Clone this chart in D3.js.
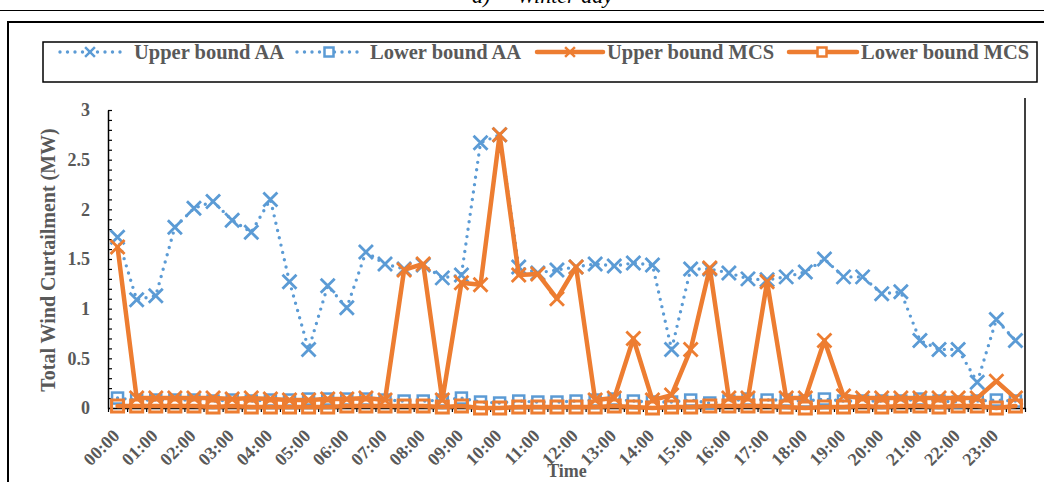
<!DOCTYPE html>
<html><head><meta charset="utf-8">
<script src="https://cdn.jsdelivr.net/npm/d3@7"></script>
<style>body{margin:0;background:#fff}svg{display:block}</style>
</head><body><svg id="c" width="1044" height="482"></svg>
<script>
const categories = ["00:00","00:30","01:00","01:30","02:00","02:30","03:00","03:30","04:00","04:30","05:00","05:30",
"06:00","06:30","07:00","07:30","08:00","08:30","09:00","09:30","10:00","10:30","11:00","11:30",
"12:00","12:30","13:00","13:30","14:00","14:30","15:00","15:30","16:00","16:30","17:00","17:30",
"18:00","18:30","19:00","19:30","20:00","20:30","21:00","21:30","22:00","22:30","23:00","23:30"];
const xTickLabels = ["00:00","01:00","02:00","03:00","04:00","05:00","06:00","07:00","08:00","09:00","10:00","11:00",
"12:00","13:00","14:00","15:00","16:00","17:00","18:00","19:00","20:00","21:00","22:00","23:00"];
const yTicks = [0,0.5,1,1.5,2,2.5,3];
const upperAA = [1.72,1.09,1.13,1.82,2.01,2.08,1.89,1.77,2.10,1.27,0.59,1.23,1.01,1.57,1.45,1.40,1.44,1.31,1.34,2.67,2.75,1.42,1.36,1.39,
1.42,1.45,1.43,1.46,1.44,0.59,1.40,1.40,1.36,1.30,1.29,1.32,1.37,1.50,1.32,1.32,1.15,1.17,0.68,0.59,0.59,0.26,0.89,0.68];
const lowerAA = [0.10,0.08,0.08,0.08,0.08,0.07,0.08,0.07,0.08,0.08,0.09,0.09,0.09,0.09,0.08,0.07,0.07,0.08,0.10,0.06,0.05,0.07,0.06,0.06,
0.07,0.08,0.09,0.07,0.06,0.06,0.08,0.05,0.07,0.09,0.08,0.08,0.07,0.09,0.07,0.07,0.07,0.07,0.09,0.07,0.06,0.07,0.08,0.07];
const upperMCS = [1.62,0.10,0.10,0.10,0.10,0.10,0.09,0.10,0.09,0.08,0.08,0.09,0.09,0.10,0.08,1.39,1.45,0.08,1.26,1.24,2.75,1.34,1.35,1.10,
1.42,0.08,0.10,0.70,0.08,0.13,0.59,1.41,0.10,0.10,1.27,0.10,0.10,0.68,0.12,0.10,0.10,0.10,0.10,0.10,0.10,0.10,0.27,0.10];
const lowerMCS = [0.02,0.02,0.02,0.02,0.02,0.01,0.02,0.01,0.01,0.01,0.01,0.01,0.02,0.02,0.02,0.02,0.02,0.01,0.02,0.00,0.00,0.01,0.01,0.01,
0.01,0.01,0.02,0.01,0.00,0.01,0.01,0.02,0.02,0.02,0.02,0.01,0.00,0.01,0.01,0.02,0.01,0.02,0.02,0.01,0.02,0.02,0.00,0.02];
const seriesNames = ["Upper bound AA","Lower bound AA","Upper bound MCS","Lower bound MCS"];

const BLUE = "#5B9BD5", ORANGE = "#ED7D31", TXT = "#595959";
const FONT = "'Liberation Serif','Times New Roman',serif";
const svg = d3.select("#c");
svg.append("rect").attr("width",1044).attr("height",482).attr("fill","#fff");

// title (cut at top, as in the reference)
svg.append("text").attr("x",472).attr("y",3).attr("font-family",FONT).attr("font-style","italic")
  .attr("font-size",22).attr("fill","#000").text("a)");
svg.append("text").attr("x",517).attr("y",3).attr("font-family",FONT).attr("font-style","italic")
  .attr("font-size",22).attr("fill","#000").text("Winter day");
svg.append("line").attr("x1",0).attr("x2",1044).attr("y1",10.5).attr("y2",10.5).attr("stroke","#000").attr("stroke-width",1);
svg.append("rect").attr("x",8).attr("y",22).attr("width",1040).attr("height",480)
  .attr("fill","none").attr("stroke","#000").attr("stroke-width",2);

// scales
const x = d3.scaleBand().domain(categories).range([108,1025]);
const cx = c => x(c) + x.bandwidth()/2;
const y = d3.scaleLinear().domain([0,3]).range([408,110]);

// y axis
const gy = svg.append("g").attr("transform","translate(108,0)")
  .call(d3.axisLeft(y).tickValues(yTicks).tickSize(0).tickSizeOuter(0).tickPadding(18).tickFormat(d=>String(d)));
gy.select(".domain").attr("stroke","#000").attr("stroke-width",1.5);
gy.selectAll("text").attr("font-family",FONT).attr("font-weight","bold").attr("font-size",18).attr("fill",TXT);
const gyMinor = svg.append("g").attr("transform","translate(108,0)")
  .call(d3.axisRight(y).ticks(30).tickSize(4).tickSizeOuter(0).tickFormat(""));
gyMinor.select(".domain").remove();
gyMinor.selectAll("line").attr("stroke","#000").attr("stroke-width",1.2);

// x axis
const gx = svg.append("g").attr("transform","translate(0,408)")
  .call(d3.axisBottom(x).tickSize(0).tickSizeOuter(0).tickFormat(""));
gx.select(".domain").attr("stroke","#000").attr("stroke-width",1.5);
const xb = d3.scaleLinear().domain([0,categories.length]).range([108,1025]);
const gxt = svg.append("g").attr("transform","translate(0,408)")
  .call(d3.axisBottom(xb).ticks(categories.length).tickSize(4).tickSizeOuter(0).tickFormat(""));
gxt.select(".domain").remove();
gxt.selectAll("line").attr("stroke","#000").attr("stroke-width",1.2);
svg.append("g").selectAll("text").data(xTickLabels).join("text")
  .attr("transform",d=>`translate(${cx(d)+3},437) rotate(-45)`)
  .attr("text-anchor","end").attr("font-family",FONT).attr("font-weight","bold")
  .attr("font-size",18).attr("fill",TXT).text(d=>d);
// right border of plot
svg.append("line").attr("x1",1025).attr("x2",1025).attr("y1",98).attr("y2",408).attr("stroke","#000").attr("stroke-width",1.5);

// axis titles
svg.append("text").attr("transform","translate(55,260) rotate(-90)").attr("text-anchor","middle")
  .attr("font-family",FONT).attr("font-weight","bold").attr("font-size",20).attr("fill",TXT)
  .text("Total Wind Curtailment (MW)");
svg.append("text").attr("x",567).attr("y",477).attr("text-anchor","middle")
  .attr("font-family",FONT).attr("font-weight","bold").attr("font-size",18).attr("fill",TXT).text("Time");

// series
const line = d3.line().x((d,i)=>cx(categories[i])).y(d=>y(d));
const X_PATH = "M-7,-7L7,7M-7,7L7,-7";
function drawSeries(vals, color, dotted, marker, lw){
  const g = svg.append("g");
  g.append("path").attr("d",line(vals)).attr("fill","none").attr("stroke",color)
    .attr("stroke-width",lw).attr("stroke-linecap","round").attr("stroke-linejoin","round")
    .attr("stroke-dasharray",dotted?"0 7.5":null);
  const m = g.selectAll(".m").data(vals).join("g").attr("transform",(d,i)=>`translate(${cx(categories[i])},${y(d)})`);
  if(marker==="x"){
    m.append("path").attr("d",X_PATH).attr("stroke",color).attr("stroke-width",2.8).attr("fill","none");
  } else {
    const s = dotted?11:12;
    m.append("rect").attr("x",-s/2).attr("y",-s/2).attr("width",s).attr("height",s)
      .attr("fill","none").attr("stroke",color).attr("stroke-width",dotted?2.5:3);
  }
}
drawSeries(upperAA, BLUE, true, "x", 3.4);
drawSeries(lowerAA, BLUE, true, "sq", 3.4);
drawSeries(upperMCS, ORANGE, false, "x", 4.5);
drawSeries(lowerMCS, ORANGE, false, "sq", 4.5);

// legend
svg.append("rect").attr("x",43).attr("y",42).attr("width",994).attr("height",40)
  .attr("fill","#fff").attr("stroke","#000").attr("stroke-width",1.5);
const legendItems = [
  {name:seriesNames[0], color:BLUE, dotted:true, marker:"x", x1:60, x2:121, mx:90, tx:134},
  {name:seriesNames[1], color:BLUE, dotted:true, marker:"sq", x1:297, x2:360, mx:329, tx:370},
  {name:seriesNames[2], color:ORANGE, dotted:false, marker:"x", x1:537, x2:603, mx:570, tx:607},
  {name:seriesNames[3], color:ORANGE, dotted:false, marker:"sq", x1:789, x2:857, mx:822, tx:861}
];
const ly = 52;
legendItems.forEach(it=>{
  const g = svg.append("g");
  g.append("line").attr("x1",it.x1).attr("x2",it.x2).attr("y1",ly).attr("y2",ly).attr("stroke",it.color)
    .attr("stroke-width",it.dotted?3.4:4.5).attr("stroke-linecap","round").attr("stroke-dasharray",it.dotted?"0 7.5":null);
  if(it.marker==="x"){
    g.append("path").attr("transform",`translate(${it.mx},${ly}) scale(0.7)`).attr("d",X_PATH)
      .attr("stroke",it.color).attr("stroke-width",3.5).attr("fill","none");
  } else {
    g.append("rect").attr("x",it.mx-4.5).attr("y",ly-4.5).attr("width",9).attr("height",9)
      .attr("fill","#fff").attr("stroke",it.color).attr("stroke-width",2.5);
  }
  g.append("text").attr("x",it.tx).attr("y",ly+6.5).attr("font-family",FONT).attr("font-weight","bold")
    .attr("font-size",20.5).attr("fill",TXT).text(it.name);
});
</script></body></html>
